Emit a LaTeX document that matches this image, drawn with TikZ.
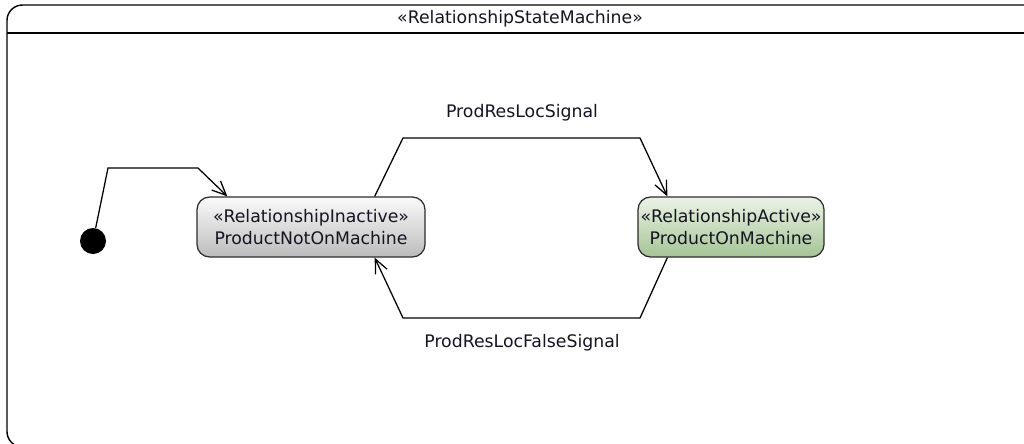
\documentclass[tikz,border=0pt]{standalone}
\usepackage{fontspec}
\setmainfont{DejaVu Sans}
\definecolor{stateline}{RGB}{45,45,45}
\definecolor{inactivetop}{RGB}{250,250,250}
\definecolor{inactivebot}{RGB}{188,188,188}
\definecolor{activetop}{RGB}{236,243,230}
\definecolor{activebot}{RGB}{164,196,148}
\definecolor{labeltext}{RGB}{20,20,35}
\usetikzlibrary{arrows.meta, calc}

\begin{document}
\begin{tikzpicture}[x=0.025cm, y=-0.025cm,
  state/.style={draw=stateline, line width=0.9pt, rounded corners=9pt, minimum height=1.5cm,
    align=center, text=labeltext, inner sep=1pt, font=\fontsize{12.3}{15.5}\selectfont},
  trans/.style={line width=0.9pt, -{Straight Barb[length=10pt,width=9pt]}},
  lbl/.style={text=labeltext, font=\fontsize{12.3}{15}\selectfont}]
\useasboundingbox (0,0) rectangle (1024,443);
\clip (0,0) rectangle (1024,443);

% Frame
\draw[line width=1pt, rounded corners=11pt] (7,5) rectangle (1060,447);
\draw[line width=1pt] (7,33) -- (1060,33);
\node[lbl] (title) at (520,19) {«RelationshipStateMachine»};

% States
\node[circle, fill=black, minimum size=0.65cm, inner sep=0pt] (init) at (93,241) {};
\node[state, minimum width=5.7cm, top color=inactivetop, bottom color=inactivebot]
  (inactive) at (311,227) {«RelationshipInactive»\\ProductNotOnMachine};
\node[state, minimum width=4.65cm, top color=activetop, bottom color=activebot]
  (active) at (731,227) {«RelationshipActive»\\ProductOnMachine};

% Transitions
\draw[trans] (init) -- (108,168) -- (198,168) -- ($(inactive.north west)+(31,0)$);
\draw[trans] ($(inactive.north east)+(-51,0)$) -- (403,138) -- (640,138)
  -- ($(active.north west)+(30,0)$);
\draw[trans] ($(active.south west)+(30,0)$) -- (640,318) -- (403,318)
  -- ($(inactive.south east)+(-51,0)$);

\node[lbl] (sig) at (522,113) {ProdResLocSignal};
\node[lbl] (falsesig) at (522,343) {ProdResLocFalseSignal};
\end{tikzpicture}
\end{document}
